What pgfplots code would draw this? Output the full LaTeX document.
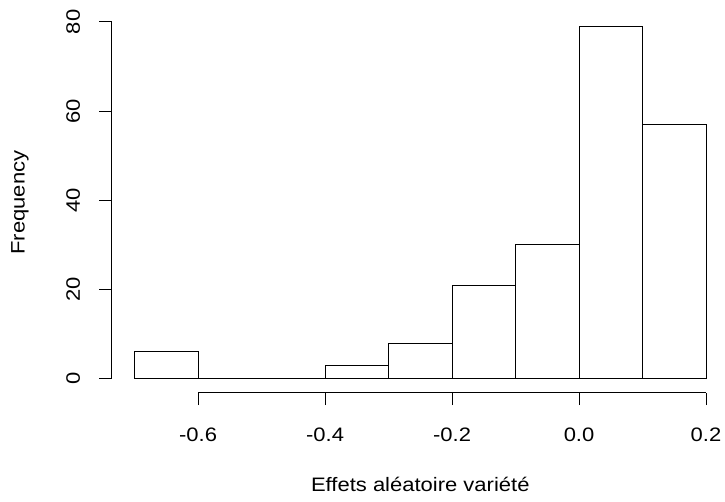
\documentclass[border=0pt]{standalone}
\usepackage{fontspec}
\setmainfont{Liberation Sans}[FakeStretch=1.13]
\usepackage{pgfplots}
\pgfplotsset{compat=1.18}
\begin{document}
\begin{tikzpicture}
\begin{axis}[
  at={(0,0)}, anchor=south west,
  scale only axis,
  width=462.9pt, height=285.4pt,
  xmin=-0.736, xmax=0.236, ymin=-3.16, ymax=82.16,
  axis lines*=left,
  axis line style={draw=none},
  clip=false,
  tick align=outside,
  major tick length=9.3pt,
  tick style={black, line width=0.75pt},
  xtick={-0.6,-0.4,-0.2,0,0.2},
  xticklabels={-0.6,-0.4,-0.2,0.0,0.2},
  ytick={0,20,40,60,80},
  yticklabels={0,20,40,60,80},
  xticklabel style={anchor=center, yshift=-22pt},
  yticklabel style={rotate=90, anchor=center, yshift=19.5pt},
  tick label style={font=\fontsize{14.6}{17}\selectfont},
  label style={font=\fontsize{14.6}{17}\selectfont},
  xlabel={Effets aléatoire variété},
  ylabel={Frequency},
  xlabel style={at={(axis description cs:0.5,0)}, anchor=center, yshift=-68.6pt},
  ylabel style={at={(axis description cs:0,0.5)}, anchor=center, yshift=68.8pt},
]
  % histogram bins of width 0.1 from -0.7 to 0.2
  \addplot[ybar interval, draw=black, fill=white, line width=0.75pt]
    coordinates {(-0.7,6) (-0.6,0) (-0.5,0) (-0.4,3) (-0.3,8) (-0.2,21)
                 (-0.1,30) (0,79) (0.1,57) (0.2,57)};
  % axis lines spanning the first to the last tick only
  \draw[black, line width=0.75pt] (axis cs:-0.6,-3.16) -- (axis cs:0.2,-3.16);
  \draw[black, line width=0.75pt] (axis cs:-0.736,0) -- (axis cs:-0.736,80);
\end{axis}
\pgfresetboundingbox
\useasboundingbox (-83.775pt,-81.9pt) rectangle (459.975pt,294.6pt);
\end{tikzpicture}
\end{document}
